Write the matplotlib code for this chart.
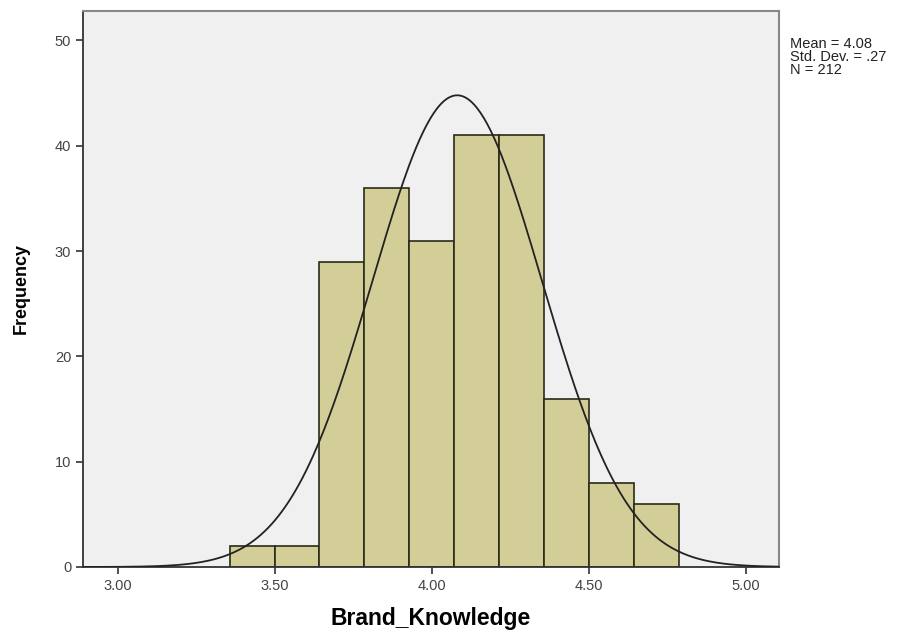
import numpy as np
import matplotlib.pyplot as plt

plt.rcParams['font.family'] = ['Liberation Sans', 'DejaVu Sans']

# histogram data
bin_start = 3.355
bin_width = 0.143
frequencies = [2, 2, 29, 36, 31, 41, 41, 16, 8, 6]
mean, std_dev, n = 4.08, 0.27, 212
x_ticks = [3.00, 3.50, 4.00, 4.50, 5.00]
x_tick_labels = ['3.00', '3.50', '4.00', '4.50', '5.00']
y_ticks = [0, 10, 20, 30, 40, 50]

fig = plt.figure(figsize=(9.13, 6.30), dpi=100)
ax = fig.add_axes([83 / 913, 1 - 567 / 630, (779 - 83) / 913, (567 - 11) / 630])
ax.set_facecolor('#f0f0f0')

edges = bin_start + bin_width * np.arange(len(frequencies) + 1)
ax.bar(edges[:-1], frequencies, width=bin_width, align='edge',
       color='#d3ce97', edgecolor='#2a2a1a', linewidth=1.2, zorder=2)

# normal curve scaled to counts
xs = np.linspace(2.888, 5.105, 400)
ys = n * bin_width / (std_dev * np.sqrt(2 * np.pi)) * np.exp(-0.5 * ((xs - mean) / std_dev) ** 2)
ax.plot(xs, ys, color='#222222', linewidth=1.3, zorder=3)

ax.set_xlim(2.888, 5.105)
ax.set_ylim(0, 52.8)
ax.set_xticks(x_ticks)
ax.set_xticklabels(x_tick_labels)
ax.set_yticks(y_ticks)
ax.tick_params(direction='out', length=5, width=1.2, colors='#333333',
               labelcolor='#444444', labelsize=10.5)

for side in ['left', 'bottom']:
    ax.spines[side].set_color('#333333')
    ax.spines[side].set_linewidth(1.3)
for side in ['top', 'right']:
    ax.spines[side].set_color('#888888')
    ax.spines[side].set_linewidth(1.5)

ax.set_xlabel('Brand_Knowledge', fontsize=16.5, fontweight='bold', labelpad=10)
ax.set_ylabel('Frequency', fontsize=13, fontweight='bold', labelpad=18)

fig.text(790 / 913, 1 - 37 / 630, 'Mean = 4.08\nStd. Dev. = .27\nN = 212',
         fontsize=10.5, va='top', ha='left', linespacing=0.9, color='#222222')

plt.savefig('out.png', dpi=100)
